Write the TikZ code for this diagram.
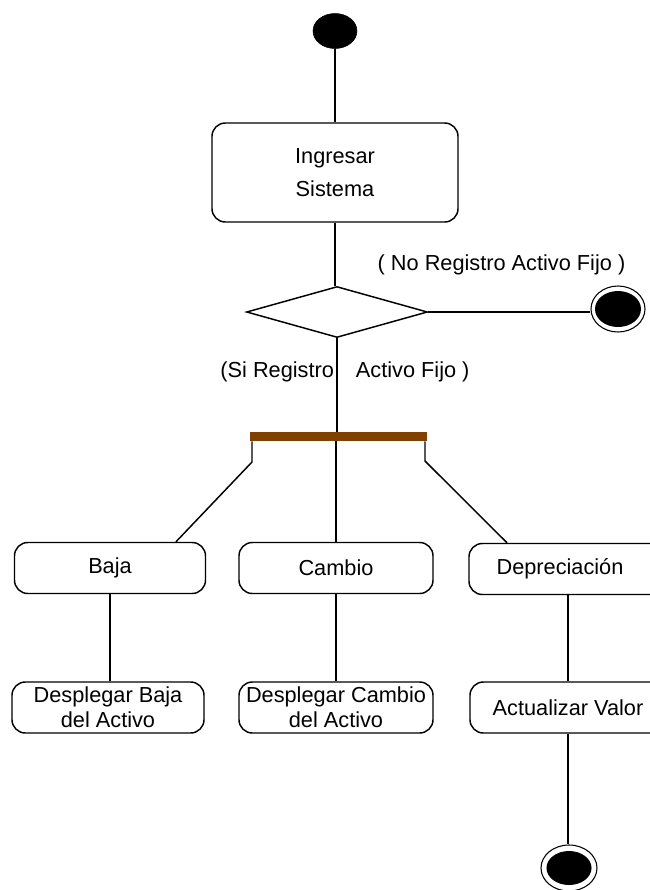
\documentclass[tikz,border=0pt]{standalone}
\usepackage{fontspec}
\setmainfont{Liberation Sans}
\usetikzlibrary{shapes.geometric}
\definecolor{barbrown}{RGB}{128,64,0}

\begin{document}
\begin{tikzpicture}[x=0.75pt,y=-0.75pt,
  every node/.style={font=\fontsize{16.3}{18.75}\selectfont},
  conn/.style={draw=black, line width=1.1pt},
  activity/.style={draw=black, line width=1.1pt, rounded corners=10pt,
    inner sep=0pt, align=center, fill=white},
  initial/.style={ellipse, draw=black, fill=black, inner sep=0pt,
    minimum width=33pt, minimum height=26.25pt},
  finalring/.style={ellipse, draw=black, line width=0.8pt, fill=white,
    inner sep=0pt},
  guard/.style={inner sep=0pt}]

  \useasboundingbox (0,0) rectangle (650,890);
  \fill[white] (0,0) rectangle (650,890);

  % start and first activity
  \node[initial] (start) at (335,31) {};
  \node[activity, minimum width=184.5pt, minimum height=74.25pt] (ing) at (335,172.5)
    {Ingresar\\[6pt]Sistema};

  % decision
  \node[diamond, draw=black, line width=1.1pt, inner sep=0pt,
        minimum width=135.75pt, minimum height=38.25pt] (dec) at (337,312) {};

  % final state on the "no" branch
  \node[finalring, minimum width=40.5pt, minimum height=34.5pt] (endA) at (618,309) {};
  \fill[black] (endA.center) ellipse [x radius=17.25pt, y radius=13.5pt];

  % guards
  \node[guard] (gno) at (501.5,265) {( No Registro Activo Fijo )};
  \node[guard] (gsi) at (345,372) {(Si Registro\hspace{16.5pt}Activo Fijo )};

  % fork bar
  \node[fill=barbrown, inner sep=0pt, minimum width=132.75pt, minimum height=6.75pt]
    (bar) at (338.5,436.5) {};

  % second row of activities
  \node[activity, minimum width=143.25pt, minimum height=38.25pt] (baja) at (110,568) {Baja};
  \node[activity, minimum width=145.5pt, minimum height=38.25pt] (cambio) at (336,568) {Cambio};
  \node[activity, minimum width=148.5pt, minimum height=38.25pt] (dep) at (568,569)
    {\hspace*{-12pt}Depreciación};

  % third row of activities
  \node[activity, minimum width=144pt, minimum height=38.25pt] (dbaja) at (108,707.5)
    {Desplegar Baja\\del Activo};
  \node[activity, minimum width=145.5pt, minimum height=38.25pt] (dcambio) at (336,707.5)
    {Desplegar Cambio\\del Activo};
  \node[activity, minimum width=147pt, minimum height=38.25pt] (actv) at (568,707.5)
    {Actualizar Valor};

  % final state at the bottom
  \node[finalring, minimum width=42pt, minimum height=34.5pt] (endB) at (569,868) {};
  \fill[black] (endB.center) ellipse [x radius=16.9pt, y radius=12.75pt];

  % bend points of the fork branches
  \coordinate (kl) at (252,462);
  \coordinate (kr) at (425,461);
  \coordinate (bl) at (176,0);
  \coordinate (br) at (507,0);

  % connectors
  \path[conn] (start) -- (ing.north);
  \path[conn] (ing.south) -- (ing.south |- dec.north);
  \path[conn] (dec.east) -- (dec.east -| endA.west);
  \path[conn] (dec.south) -- (dec.south |- bar.north);
  \path[conn] (kl |- bar.south) -- (kl) -- (baja.north -| bl);
  \path[conn] (bar.south -| cambio.north) -- (cambio.north);
  \path[conn] (kr |- bar.south) -- (kr) -- (dep.north -| br);
  \path[conn] (baja.south) -- (baja.south |- dbaja.north);
  \path[conn] (cambio.south) -- (dcambio.north);
  \path[conn] (dep.south) -- (actv.north);
  \path[conn] (actv.south) -- (actv.south |- endB.north);
\end{tikzpicture}
\end{document}
